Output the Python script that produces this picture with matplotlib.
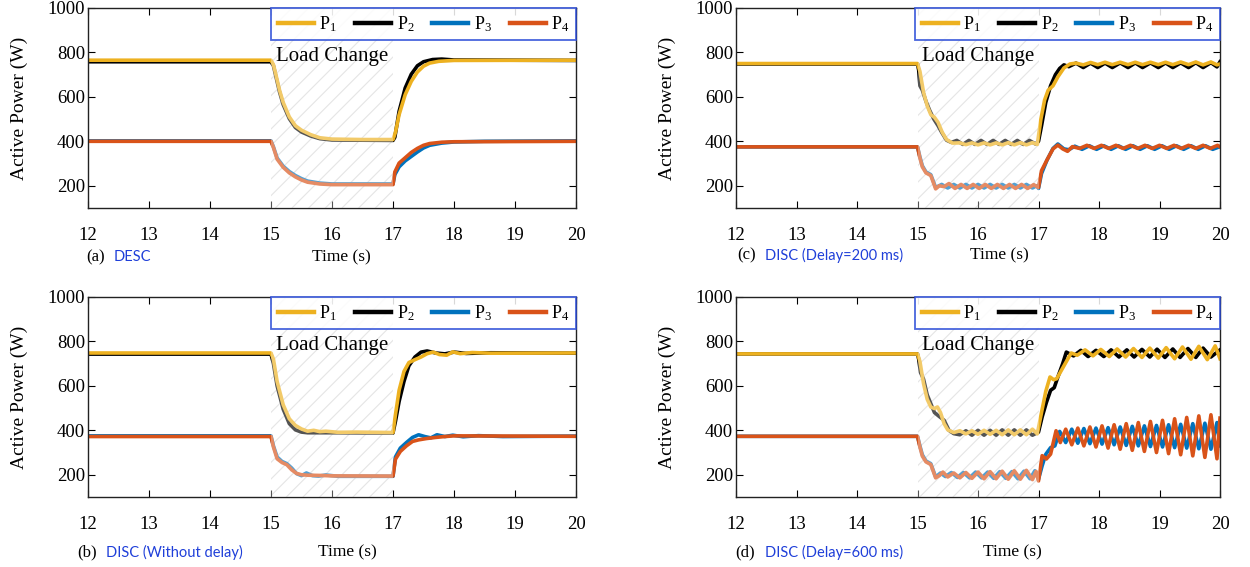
"""
Active power sharing of four DGs under a load change, four control cases.
"""
import matplotlib
matplotlib.use('Agg')
import matplotlib.pyplot as plt

serif = 'Liberation Serif'
plt.rcParams['font.family'] = 'serif'
plt.rcParams['font.serif'] = [serif, 'DejaVu Serif']
plt.rcParams['mathtext.fontset'] = 'custom'
plt.rcParams['mathtext.rm'] = serif
plt.rcParams['hatch.linewidth'] = 0.8

# ---- data: (time s, power W) ----
series_names = ['$\\mathregular{P_1}$', '$\\mathregular{P_2}$', '$\\mathregular{P_3}$', '$\\mathregular{P_4}$']
series_colors = ['#EDB120', '#000000', '#0072BD', '#D95319']
x_ticks = [12, 13, 14, 15, 16, 17, 18, 19, 20]
y_ticks = [200, 400, 600, 800, 1000]
load_change = (15, 17)

# (a) DESC
a_p1 = [(12, 765), (15, 765), (15.04, 745), (15.08, 700), (15.14, 630), (15.2, 575), (15.3, 510), (15.4, 470),
        (15.5, 450), (15.65, 430), (15.8, 416), (16.0, 410), (16.5, 408), (17.0, 408), (17.04, 440), (17.1, 520),
        (17.2, 610), (17.3, 670), (17.4, 712), (17.5, 738), (17.6, 752), (17.75, 760), (18.0, 764), (20, 765)]
a_p2 = [(12, 758), (15, 758), (15.04, 740), (15.08, 692), (15.14, 622), (15.2, 565), (15.3, 502), (15.4, 462),
        (15.5, 442), (15.65, 424), (15.8, 412), (16.0, 406), (17.0, 404), (17.03, 418), (17.1, 535), (17.2, 640),
        (17.3, 702), (17.4, 740), (17.5, 758), (17.65, 768), (17.8, 770), (18.0, 766), (20, 764)]
a_p3 = [(12, 402), (15, 402), (15.04, 375), (15.1, 325), (15.2, 288), (15.3, 264), (15.4, 246), (15.5, 232),
        (15.6, 221), (15.8, 212), (16.0, 208), (17.0, 208), (17.03, 250), (17.1, 285), (17.2, 312), (17.3, 332),
        (17.4, 352), (17.5, 370), (17.6, 382), (17.8, 392), (18.0, 397), (18.5, 400), (20, 402)]
a_p4 = [(12, 400), (15, 400), (15.04, 372), (15.1, 320), (15.2, 283), (15.3, 258), (15.4, 240), (15.5, 226),
        (15.6, 216), (15.8, 208), (16.0, 205), (17.0, 205), (17.03, 262), (17.1, 302), (17.2, 326), (17.3, 350),
        (17.4, 368), (17.5, 382), (17.6, 390), (17.8, 396), (18.0, 398), (20, 400)]

# (b) DISC without delay
b_p1 = [(12, 748), (15, 748), (15.04, 720), (15.1, 620), (15.2, 515), (15.3, 452), (15.4, 422), (15.5, 406),
        (15.6, 396), (15.7, 400), (15.8, 394), (15.9, 396), (16.1, 391), (16.4, 392), (17.0, 390), (17.04, 470),
        (17.1, 580), (17.18, 665), (17.26, 705), (17.36, 718), (17.46, 730), (17.56, 745), (17.66, 752),
        (17.76, 741), (17.88, 738), (17.98, 753), (18.1, 745), (18.3, 750), (18.6, 747), (20, 748)]
b_p2 = [(12, 743), (15, 743), (15.04, 700), (15.1, 600), (15.2, 495), (15.3, 430), (15.4, 402), (15.5, 392),
        (15.6, 389), (16.0, 389), (17.0, 388), (17.04, 440), (17.1, 530), (17.18, 620), (17.26, 690), (17.36, 730),
        (17.46, 752), (17.56, 757), (17.7, 748), (17.85, 744), (18.0, 752), (18.2, 746), (18.6, 749), (20, 747)]
b_p3 = [(12, 375), (15, 375), (15.04, 330), (15.1, 280), (15.18, 260), (15.26, 250), (15.34, 230), (15.42, 205),
        (15.5, 196), (15.58, 208), (15.68, 196), (15.78, 194), (15.9, 199), (16.1, 193), (17.0, 193), (17.04, 280),
        (17.12, 320), (17.22, 345), (17.32, 368), (17.42, 380), (17.52, 372), (17.62, 366), (17.72, 380),
        (17.85, 372), (17.98, 378), (18.15, 371), (18.4, 376), (18.8, 372), (20, 374)]
b_p4 = [(12, 372), (15, 372), (15.04, 325), (15.1, 272), (15.18, 255), (15.26, 245), (15.34, 222), (15.42, 206),
        (15.5, 200), (15.6, 198), (15.8, 197), (16.0, 195), (17.0, 194), (17.04, 270), (17.12, 305), (17.22, 330),
        (17.32, 350), (17.42, 357), (17.55, 363), (17.7, 368), (17.85, 372), (18.0, 375), (20, 373)]

# (c) DISC delay 200 ms
c_p1 = [(12, 750), (15, 750), (15.04, 715), (15.1, 620), (15.16, 560), (15.22, 520), (15.28, 508), (15.34, 485),
        (15.41, 440), (15.48, 408), (15.58, 392), (15.7, 393), (15.8, 385), (15.9, 393), (16.0, 384), (16.1, 393),
        (16.2, 384), (16.3, 393), (16.4, 384), (16.5, 394), (16.6, 384), (16.7, 394), (16.8, 384), (16.9, 394),
        (16.98, 386), (17.04, 500), (17.1, 585), (17.16, 630), (17.24, 650), (17.32, 690), (17.42, 730),
        (17.52, 748), (17.62, 752), (17.74, 744), (17.86, 755), (17.98, 745), (18.1, 756), (18.22, 745),
        (18.35, 756), (18.48, 745), (18.6, 756), (18.72, 745), (18.85, 756), (18.98, 745), (19.1, 756),
        (19.22, 745), (19.35, 757), (19.48, 745), (19.6, 757), (19.72, 744), (19.85, 757), (19.95, 744), (20, 748)]
c_p2 = [(12, 748), (15, 748), (15.02, 720), (15.04, 650), (15.08, 630), (15.14, 580), (15.2, 540), (15.27, 500),
        (15.34, 470), (15.4, 440), (15.48, 405), (15.56, 395), (15.65, 404), (15.75, 386), (15.85, 404),
        (15.95, 386), (16.05, 404), (16.15, 386), (16.25, 404), (16.35, 386), (16.45, 404), (16.55, 386),
        (16.65, 404), (16.75, 386), (16.85, 404), (16.95, 388), (17.0, 400), (17.05, 470), (17.12, 575),
        (17.2, 650), (17.28, 700), (17.35, 728), (17.42, 744), (17.5, 736), (17.62, 752), (17.74, 732),
        (17.86, 752), (17.98, 732), (18.1, 752), (18.22, 732), (18.35, 753), (18.48, 732), (18.6, 753),
        (18.72, 732), (18.85, 753), (18.98, 732), (19.1, 753), (19.22, 732), (19.35, 753), (19.48, 732),
        (19.6, 754), (19.72, 732), (19.85, 754), (19.95, 735), (20, 758)]
c_p3 = [(12, 375), (15, 375), (15.04, 330), (15.08, 290), (15.14, 262), (15.22, 250), (15.3, 192), (15.4, 206),
        (15.5, 190), (15.6, 206), (15.7, 190), (15.8, 206), (15.9, 190), (16.0, 206), (16.1, 190), (16.2, 206),
        (16.3, 190), (16.4, 206), (16.5, 190), (16.6, 206), (16.7, 190), (16.8, 206), (16.9, 190), (16.97, 200),
        (17.0, 188), (17.05, 255), (17.14, 315), (17.24, 368), (17.32, 388), (17.42, 366), (17.5, 362),
        (17.6, 378), (17.72, 364), (17.84, 380), (17.96, 364), (18.08, 380), (18.2, 364), (18.32, 380),
        (18.44, 364), (18.56, 380), (18.68, 364), (18.8, 380), (18.92, 364), (19.04, 380), (19.16, 364),
        (19.28, 380), (19.4, 364), (19.52, 380), (19.64, 364), (19.76, 380), (19.88, 364), (20, 376)]
c_p4 = [(12, 375), (15, 375), (15.04, 325), (15.08, 285), (15.14, 258), (15.22, 246), (15.3, 186), (15.36, 200),
        (15.44, 196), (15.52, 210), (15.62, 188), (15.72, 206), (15.82, 188), (15.92, 206), (16.02, 188),
        (16.12, 206), (16.22, 188), (16.32, 206), (16.42, 188), (16.52, 206), (16.62, 188), (16.72, 206),
        (16.82, 188), (16.92, 205), (17.0, 192), (17.05, 268), (17.14, 316), (17.24, 366), (17.32, 383),
        (17.4, 366), (17.48, 355), (17.56, 376), (17.68, 368), (17.8, 382), (17.92, 368), (18.04, 382),
        (18.16, 368), (18.28, 382), (18.4, 368), (18.52, 382), (18.64, 368), (18.76, 382), (18.88, 368),
        (19.0, 382), (19.12, 368), (19.24, 382), (19.36, 368), (19.48, 382), (19.6, 368), (19.72, 382),
        (19.84, 368), (19.96, 382), (20, 375)]

# (d) DISC delay 600 ms
d_p1 = [(12, 744), (15, 744), (15.04, 710), (15.1, 610), (15.16, 540), (15.22, 505), (15.28, 498), (15.33, 505),
        (15.38, 480), (15.44, 430), (15.5, 402), (15.6, 390), (15.7, 398), (15.8, 384), (15.9, 398), (16.0, 382),
        (16.1, 400), (16.2, 382), (16.3, 400), (16.4, 380), (16.5, 402), (16.6, 380), (16.7, 402), (16.8, 380),
        (16.9, 405), (16.98, 384), (17.05, 480), (17.12, 575), (17.19, 640), (17.25, 628), (17.3, 632),
        (17.42, 690), (17.54, 748), (17.64, 738), (17.77, 762), (17.9, 735), (18.03, 764), (18.17, 732),
        (18.3, 766), (18.44, 730), (18.57, 768), (18.71, 728), (18.84, 770), (18.98, 725), (19.11, 772),
        (19.25, 722), (19.38, 775), (19.52, 720), (19.65, 778), (19.79, 718), (19.92, 780), (20, 722)]
d_p2 = [(12, 744), (15, 744), (15.02, 720), (15.05, 660), (15.1, 630), (15.16, 560), (15.22, 520), (15.28, 480),
        (15.36, 462), (15.44, 445), (15.52, 400), (15.6, 385), (15.7, 380), (15.8, 398), (15.9, 378), (16.0, 400),
        (16.1, 378), (16.2, 400), (16.3, 378), (16.4, 402), (16.5, 378), (16.6, 402), (16.7, 378), (16.8, 402),
        (16.9, 378), (17.0, 392), (17.06, 460), (17.13, 525), (17.2, 580), (17.26, 592), (17.32, 640),
        (17.4, 700), (17.46, 752), (17.58, 735), (17.7, 760), (17.82, 732), (17.95, 760), (18.08, 732),
        (18.2, 762), (18.33, 730), (18.46, 762), (18.58, 730), (18.71, 764), (18.84, 730), (18.96, 765),
        (19.09, 728), (19.22, 766), (19.34, 728), (19.47, 768), (19.6, 728), (19.72, 770), (19.85, 730), (20, 762)]
d_p3 = [(12, 373), (15, 373), (15.04, 330), (15.08, 290), (15.14, 262), (15.22, 250), (15.3, 190), (15.38, 208),
        (15.46, 192), (15.56, 210), (15.66, 188), (15.76, 210), (15.86, 186), (15.96, 212), (16.06, 186),
        (16.16, 212), (16.26, 184), (16.36, 214), (16.46, 184), (16.56, 214), (16.66, 182), (16.76, 216),
        (16.86, 182), (16.94, 218), (17.0, 180), (17.06, 240), (17.12, 292), (17.2, 322), (17.27, 330),
        (17.35, 395), (17.45, 345), (17.55, 405), (17.65, 342), (17.75, 408), (17.85, 340), (17.95, 410),
        (18.05, 338), (18.15, 412), (18.25, 335), (18.35, 415), (18.45, 332), (18.55, 418), (18.65, 330),
        (18.75, 420), (18.85, 327), (18.95, 422), (19.05, 325), (19.15, 425), (19.25, 322), (19.35, 427),
        (19.45, 320), (19.55, 430), (19.65, 317), (19.75, 432), (19.85, 315), (19.95, 435), (20, 330)]
d_p4 = [(12, 373), (15, 373), (15.04, 325), (15.08, 284), (15.14, 258), (15.22, 246), (15.3, 186), (15.36, 196),
        (15.42, 212), (15.5, 190), (15.6, 208), (15.7, 186), (15.8, 210), (15.9, 184), (16.0, 212), (16.1, 182),
        (16.2, 214), (16.3, 182), (16.4, 216), (16.5, 180), (16.6, 218), (16.7, 180), (16.8, 220), (16.9, 178),
        (16.96, 215), (17.0, 172), (17.06, 286), (17.13, 271), (17.2, 293), (17.29, 398), (17.36, 345),
        (17.45, 405), (17.55, 335), (17.65, 410), (17.75, 330), (17.85, 415), (17.95, 325), (18.05, 420),
        (18.15, 320), (18.25, 425), (18.35, 315), (18.45, 430), (18.55, 310), (18.65, 435), (18.75, 305),
        (18.85, 440), (18.95, 300), (19.05, 445), (19.15, 295), (19.25, 452), (19.35, 290), (19.45, 458),
        (19.55, 285), (19.65, 465), (19.75, 278), (19.85, 470), (19.95, 272), (20, 455)]

panels = [
    # axes rect, series, tag, caption, caption x, time label x, text y
    ([0.0704, 0.6332, 0.3904, 0.3527], [a_p1, a_p2, a_p3, a_p4], '(a)', 'DESC', 0.053, 0.52, -0.245),
    ([0.0704, 0.1235, 0.3904, 0.3527], [b_p1, b_p2, b_p3, b_p4], '(b)', 'DISC (Without delay)', 0.037, 0.531, -0.275),
    ([0.5888, 0.6332, 0.3872, 0.3527], [c_p1, c_p2, c_p3, c_p4], '(c)', 'DISC (Delay=200 ms)', 0.06, 0.545, -0.235),
    ([0.5888, 0.1235, 0.3872, 0.3527], [d_p1, d_p2, d_p3, d_p4], '(d)', 'DISC (Delay=600 ms)', 0.06, 0.57, -0.275),
]
tag_x = [-0.004, -0.0225, 0.002, -0.002]


def draw_panel(ax, series, tag, caption, cap_x, time_x, text_y, tx):
    """
        Draw one panel: four power curves, hatched load-change window, legend.
    """
    lines = []
    for k, pts in enumerate(series):
        t = [p[0] for p in pts]
        v = [p[1] for p in pts]
        z = 2.2 if k in (0, 3) else 2.1
        ln, = ax.plot(t, v, color=series_colors[k], lw=2.6, zorder=z,
                      solid_joinstyle='round', label=series_names[k])
        lines.append(ln)

    # hatch under the curves, white veil over them
    ax.axvspan(load_change[0], load_change[1], facecolor='none', edgecolor='#d9d9d9',
               hatch='//', lw=0, zorder=0.5)
    ax.axvspan(load_change[0], load_change[1], facecolor='white', alpha=0.33,
               edgecolor='none', zorder=3)

    ax.set_xlim(12, 20)
    ax.set_ylim(100, 1000)
    ax.set_xticks(x_ticks)
    ax.set_yticks(y_ticks)
    ax.tick_params(direction='in', top=True, right=True, length=5, width=0.8, labelsize=13.5)
    ax.tick_params(axis='x', pad=14)
    ax.tick_params(axis='y', pad=2)
    for sp in ax.spines.values():
        sp.set_linewidth(1.0)
        sp.set_color('#222222')

    ax.set_ylabel('Active Power (W)', fontsize=14)
    ax.yaxis.set_label_coords(-0.123, 0.5)

    ax.text(15.08, 782, 'Load Change', fontsize=15, ha='left', va='center', zorder=4)

    leg = ax.legend(handles=lines, loc='upper right', bbox_to_anchor=(1, 1), borderaxespad=0,
                    ncol=4, fontsize=13, handlelength=2.0, handletextpad=0.3, columnspacing=1.0,
                    borderpad=0.35, fancybox=False, framealpha=0.85)
    leg.get_frame().set_edgecolor('#2a4bd7')
    leg.get_frame().set_linewidth(1.3)
    leg.set_zorder(5)
    for h in leg.legend_handles:
        h.set_linewidth(3.2)

    ax.text(tx, text_y, tag, transform=ax.transAxes, fontsize=12, ha='left', va='center')
    ax.text(cap_x, text_y, caption, transform=ax.transAxes, fontsize=10.5, ha='left', va='center',
            color='#1f3fd9', family=['Lato', 'DejaVu Sans'])
    ax.text(time_x, text_y, 'Time (s)', transform=ax.transAxes, fontsize=12.5, ha='center', va='center')


fig = plt.figure(figsize=(12.5, 5.67), dpi=100)
for (rect, series, tag, caption, cap_x, time_x, text_y), tx in zip(panels, tag_x):
    ax = fig.add_axes(rect)
    draw_panel(ax, series, tag, caption, cap_x, time_x, text_y, tx)

fig.savefig('out.png', dpi=100)
